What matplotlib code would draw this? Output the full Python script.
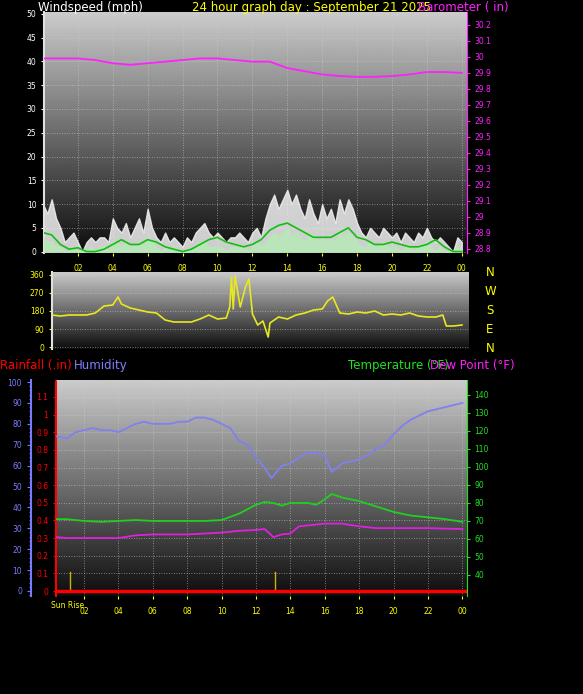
import numpy as np
import matplotlib
matplotlib.use("Agg")
import matplotlib.pyplot as plt

# ---------------- data ----------------
hour_labels = ["02", "04", "06", "08", "10", "12", "14", "16", "18", "20", "22", "00"]
hour_ticks = [2, 4, 6, 8, 10, 12, 14, 16, 18, 20, 22, 24]

baro_hours = list(range(0, 25))
baro_in = [29.99, 29.99, 29.99, 29.98, 29.96, 29.95, 29.96, 29.97, 29.98, 29.99, 29.99, 29.98,
           29.97, 29.97, 29.93, 29.91, 29.89, 29.88, 29.875, 29.875, 29.88, 29.89, 29.905, 29.905, 29.9]

gust_mph = [10, 8, 11, 7, 5, 2, 3, 4, 2, 0, 2, 3, 2, 3, 3, 2, 7, 5, 4, 6, 3, 5, 7, 4,
            9, 5, 3, 2, 4, 2, 3, 2, 1, 3, 2, 4, 5, 6, 4, 3, 4, 3, 2, 3, 3, 4, 3, 2,
            4, 5, 3, 7, 10, 12, 9, 11, 13, 10, 12, 9, 7, 11, 8, 6, 10, 7, 9, 6, 11, 8, 11, 9,
            6, 4, 3, 5, 4, 3, 5, 4, 3, 4, 2, 4, 3, 2, 4, 3, 5, 3, 2, 3, 2, 1, 0, 3, 2]
speed_mph = [3, 2, 2, 1, 1, 0, 0, 1, 0, 0, 0, 1, 0, 1, 1, 0, 2, 2, 1, 2, 1, 1, 2, 1,
             3, 2, 1, 0, 1, 0, 1, 0, 0, 0, 0, 1, 2, 2, 1, 1, 1, 1, 0, 1, 1, 1, 1, 0,
             1, 2, 1, 2, 3, 4, 3, 4, 5, 3, 4, 3, 2, 4, 3, 2, 3, 2, 3, 2, 4, 3, 4, 3,
             2, 1, 1, 2, 1, 1, 2, 1, 1, 1, 0, 1, 1, 0, 1, 1, 2, 1, 0, 1, 0, 0, 0, 1, 0]
avg_mph = [4, 3.5, 1.5, 0.5, 0.8, 0, 0, 0.5, 1.5, 2.5, 1.5, 1.5, 2.5, 2.0, 1.0, 0.5, 0, 0.5,
           1.5, 2.5, 3, 2, 1.5, 1, 1.5, 2.5, 4.5, 5.5, 6, 5, 4, 3, 3, 3, 4, 5, 3, 2.5,
           1.5, 1.5, 2, 1.5, 1, 1, 1.5, 2.5, 1, 0, 0]

dir_hours = [0.1, 0.5, 1, 1.5, 2, 2.5, 3, 3.5, 4, 4.3, 4.5, 5, 5.5, 6, 6.5, 7, 7.5, 8, 8.5, 9,
             9.5, 10, 10.5, 10.7, 10.8, 10.9, 11, 11.3, 11.6, 11.8, 12, 12.3, 12.6, 12.9, 13,
             13.5, 14, 14.5, 15, 15.5, 16, 16.3, 16.6, 17, 17.5, 18, 18.5, 19, 19.5, 20, 20.5,
             21, 21.5, 22, 22.5, 22.9, 23.1, 23.5, 24]
dir_deg = [130, 160, 155, 160, 160, 160, 170, 205, 210, 250, 215, 195, 185, 175, 170, 135, 125,
           125, 125, 140, 160, 140, 145, 200, 350, 190, 355, 200, 300, 340, 165, 110, 130, 50,
           120, 150, 140, 160, 170, 185, 190, 230, 250, 170, 165, 175, 170, 180, 160, 165, 160,
           170, 155, 150, 150, 160, 105, 105, 110]

hum_hours = [0.4, 1, 1.5, 2, 2.5, 3, 3.5, 4, 4.5, 5, 5.5, 6, 6.5, 7, 7.5, 8, 8.5, 9, 9.5, 10,
             10.5, 11, 11.5, 12, 12.5, 12.9, 13.5, 14, 14.5, 15, 15.5, 16, 16.4, 17, 17.5, 18,
             18.5, 19, 19.5, 20, 20.5, 21, 21.5, 22, 22.5, 23, 23.5, 24]
humidity = [74, 73, 76, 77, 78, 77, 77, 76, 78, 80, 81, 80, 80, 80, 81, 81, 83, 83, 82, 80,
            78, 72, 70, 64, 59, 54, 60, 61, 64, 66, 66, 65, 57, 61, 62, 63, 65, 68, 70, 75,
            79, 82, 84, 86, 87, 88, 89, 90]

temp_hours = [0.4, 1, 2, 3, 4, 5, 6, 7, 8, 9, 10, 11, 12, 12.5, 13, 13.5, 14, 15, 15.5, 16,
              16.4, 17, 18, 19, 20, 21, 22, 23, 24]
temperature = [71, 71, 70, 69.5, 70, 70.5, 70, 70, 70, 70, 70.5, 74, 79, 80.5, 80, 78.5, 80,
               80, 79, 82, 85, 83, 81, 78, 75, 73, 72, 71, 69.5]

dew_hours = [0.4, 1, 2, 3, 4, 5, 6, 8, 10, 11, 12, 12.5, 12.8, 13, 13.5, 14, 14.5, 15, 16,
             17, 18, 19, 20, 22, 24]
dew_point = [61, 60.5, 60.5, 60.5, 60.5, 62, 62.5, 62.5, 63.5, 64.5, 65, 65.5, 63, 61, 62.5,
             63, 67, 67.5, 68.5, 68.5, 67, 66, 66, 66, 65.5]

rain_hours = [0.37, 24.27]
rain_in = [0, 0]

sun_lines = [1.2, 13.1]

# ---------------- figure ----------------
W, H = 583, 694
fig = plt.figure(figsize=(W / 100, H / 100), dpi=100, facecolor="black")


def box(x0, y0, x1, y1):
    return [x0 / W, 1 - y1 / H, (x1 - x0) / W, (y1 - y0) / H]


grad = np.linspace(0.05, 0.8, 256).reshape(-1, 1)


def background(ax):
    ax.set_facecolor("black")
    ax.imshow(grad, extent=[0, 1, 0, 1], transform=ax.transAxes, cmap="gray", vmin=0, vmax=1,
              aspect="auto", origin="lower", zorder=0)
    ax.grid(True, color="#d0d0d0", linestyle=(0, (1, 2)), linewidth=0.6, alpha=0.7)
    for s in ax.spines.values():
        s.set_visible(False)


FS = 5.5
TF = 8.5

# ---- top panel: wind and barometer ----
ax1 = fig.add_axes(box(44, 12, 467, 253))
background(ax1)
xq = np.arange(len(gust_mph)) * 0.25
xh = np.arange(len(avg_mph)) * 0.5
ax1.fill_between(xq, gust_mph, color="#f0f0f0", alpha=0.85, zorder=2)
ax1.fill_between(xq, speed_mph, color="#b8e8b8", alpha=0.9, zorder=3)
ax1.plot(xh, avg_mph, color="#10c010", lw=1.2, zorder=4)
ax1.set_xlim(0.06, 24.3)
ax1.set_ylim(-0.3, 50.4)
ax1.set_yticks(range(0, 51, 5))
ax1.set_xticks(hour_ticks)
ax1.set_xticklabels(hour_labels)
ax1.tick_params(axis="y", colors="white", labelsize=FS, length=2)
ax1.tick_params(axis="x", colors="yellow", labelsize=FS, length=2, pad=6)
ax1.spines["left"].set_visible(True)
ax1.spines["left"].set_color("#e0e0e0")
ax1.spines["left"].set_linewidth(1.5)
ax1b = ax1.twinx()
ax1b.plot(baro_hours, baro_in, color="#ff20ff", lw=1.3)
ax1b.set_ylim(28.775, 30.28)
bt = np.round(np.arange(28.8, 30.21, 0.1), 1)
ax1b.set_yticks(bt)
ax1b.set_yticklabels([f"{v:g}" for v in bt])
ax1b.tick_params(axis="y", colors="#ff20ff", labelsize=FS, length=2)
for s in ax1b.spines.values():
    s.set_visible(False)
ax1b.spines["right"].set_visible(True)
ax1b.spines["right"].set_color("#ff20ff")
ax1b.spines["right"].set_linestyle((0, (1, 1)))

fig.text(38 / W, 1 - 8 / H, "Windspeed (mph)", color="white", fontsize=TF, va="center")
fig.text(192 / W, 1 - 8 / H, "24 hour graph day : September 21 2025", color="yellow", fontsize=TF, va="center")
fig.text(418 / W, 1 - 8 / H, "Barometer ( in)", color="#ff20ff", fontsize=TF, va="center")

# ---- middle panel: wind direction ----
ax2 = fig.add_axes(box(52, 272, 469, 349))
background(ax2)
ax2.plot(dir_hours, dir_deg, color="#e8e820", lw=1.2, zorder=3)
ax2.set_xlim(0.52, 24.4)
ax2.set_ylim(-10, 375)
ax2.set_yticks([0, 90, 180, 270, 360])
ax2.set_xticks(hour_ticks)
ax2.grid(False, axis="x")
ax2.tick_params(axis="y", colors="yellow", labelsize=FS, length=2)
ax2.tick_params(axis="x", length=0, labelbottom=False)
ax2.spines["left"].set_visible(True)
ax2.spines["left"].set_color("#e0e0e0")
ax2.spines["left"].set_linewidth(1.5)
for i, c in enumerate(["N", "W", "S", "E", "N"]):
    fig.text(490 / W, 1 - (273 + i * 18.8) / H, c, color="yellow", fontsize=8.5, ha="center", va="center")

# ---- bottom panel ----
ax3 = fig.add_axes(box(56, 380, 467, 596))
background(ax3)
ax3.set_xlim(0.37, 24.27)
ax3.set_ylim(-0.028, 1.196)
ax3.set_xticks(hour_ticks)
ax3.set_xticklabels(hour_labels)
ax3.tick_params(axis="x", colors="yellow", labelsize=FS, length=2, pad=6)
rt = np.round(np.arange(0, 1.11, 0.1), 1)
ax3.set_yticks(rt)
ax3.set_yticklabels([f"{v:g}" for v in rt])
ax3.tick_params(axis="y", colors="red", labelsize=FS, length=2)
ax3.spines["left"].set_visible(True)
ax3.spines["left"].set_color("red")
ax3.spines["left"].set_linestyle((0, (1, 1)))
ax3.spines["left"].set_linewidth(1.5)
for sx in sun_lines:
    ax3.plot([sx, sx], [0, 0.11], color="#c8b400", lw=1, zorder=3)
ax3.plot(rain_hours, rain_in, color="red", lw=2.5, zorder=6)
fig.text(68 / W, 1 - 606 / H, "Sun Rise", color="yellow", fontsize=FS, ha="center", va="center")

ax3h = ax3.twinx()
ax3h.yaxis.set_ticks_position("left")
ax3h.yaxis.set_label_position("left")
for s in ax3h.spines.values():
    s.set_visible(False)
ax3h.spines["left"].set_visible(True)
ax3h.spines["left"].set_position(("outward", 18))
ax3h.spines["left"].set_color("#7a7aff")
ax3h.spines["left"].set_linewidth(1.5)
ax3h.plot(hum_hours, humidity, color="#8080f0", lw=1.3, zorder=4)
ax3h.set_ylim(-2.4, 101)
ax3h.set_yticks(range(0, 101, 10))
ax3h.tick_params(axis="y", colors="#7a7aff", labelsize=FS, length=3)
ax3h.yaxis.set_minor_locator(matplotlib.ticker.MultipleLocator(2))
ax3h.tick_params(axis="y", which="minor", colors="#7a7aff", length=1.5)

ax3t = ax3.twinx()
for s in ax3t.spines.values():
    s.set_visible(False)
ax3t.spines["right"].set_visible(True)
ax3t.spines["right"].set_color("#20e020")
ax3t.spines["right"].set_linestyle((0, (1, 1)))
ax3t.plot(temp_hours, temperature, color="#20d020", lw=1.3, zorder=4)
ax3t.plot(dew_hours, dew_point, color="#e020e0", lw=1.3, zorder=4)
ax3t.set_ylim(28.3, 148.3)
ax3t.set_yticks(range(40, 141, 10))
ax3t.tick_params(axis="y", colors="#20e020", labelsize=FS, length=2)

fig.text(0 / W, 1 - 365 / H, "Rainfall (.in)", color="red", fontsize=TF, va="center")
fig.text(74 / W, 1 - 365 / H, "Humidity", color="#8080ff", fontsize=TF, va="center")
fig.text(348 / W, 1 - 365 / H, "Temperature (°F)", color="#20e020", fontsize=TF, va="center")
fig.text(430 / W, 1 - 365 / H, "Dew Point (°F)", color="#ff20ff", fontsize=TF, va="center")

fig.savefig("out.png", dpi=100, facecolor="black")
